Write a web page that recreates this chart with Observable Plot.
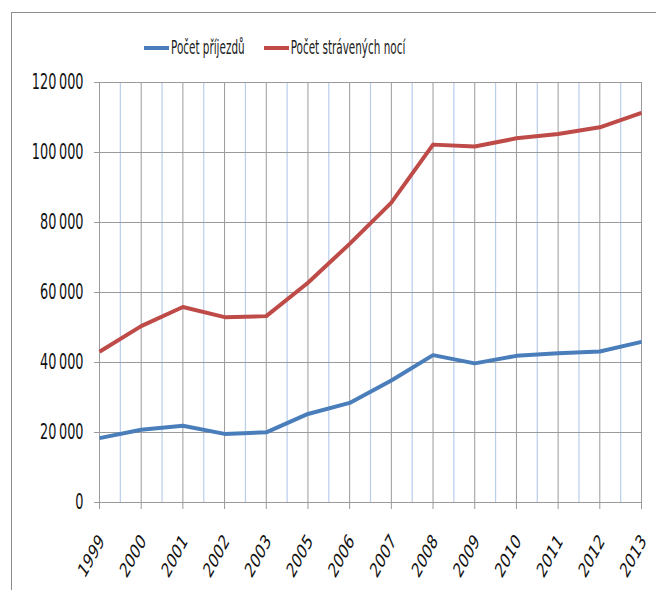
<!DOCTYPE html>
<html>
<head>
<meta charset="utf-8">
<script src="https://cdn.jsdelivr.net/npm/d3@7"></script>
<script src="https://cdn.jsdelivr.net/npm/@observablehq/plot@0.6"></script>
<style>
  html, body { margin: 0; padding: 0; background: #fff; }
  #wrap { position: relative; width: 656px; height: 590px; overflow: hidden; font-family: "DejaVu Sans Condensed", "Liberation Sans", sans-serif; }
  #frame { position: absolute; left: 11px; top: 12px; width: 700px; height: 700px; border: 1.5px solid #8c8c8c; box-sizing: border-box; }
  #chart { position: absolute; left: 0; top: 0; }
  #legend { position: absolute; top: 41px; left: 144px; display: flex; gap: 19px; font-size: 11.6px; color: #222; }
  .item { display: flex; align-items: center; gap: 2px; }
  .sw { display: inline-block; width: 25px; height: 4px; }
  .lt { display: inline-block; transform: scaleY(1.6); transform-origin: center; }
</style>
</head>
<body>
<div id="wrap">
  <div id="frame"></div>
  <div id="chart"></div>
  <div id="legend"></div>
</div>
<script>
const years = ["1999","2000","2001","2002","2003","2005","2006","2007","2008","2009","2010","2011","2012","2013"];
const seriesNames = ["Počet příjezdů", "Počet strávených nocí"];
const arrivals = [18400, 20800, 21950, 19600, 20050, 25300, 28450, 34850, 42100, 39750, 41900, 42650, 43150, 45900];
const nights   = [43050, 50400, 55850, 52950, 53250, 62800, 73900, 85700, 102250, 101700, 104050, 105300, 107200, 111300];
const yTicks = [0, 20000, 40000, 60000, 80000, 100000, 120000];
const colors = ["#4a7ebb", "#be4b48"];

const rows = [];
years.forEach((y, i) => {
  rows.push({i, year: y, value: arrivals[i], series: seriesNames[0]});
  rows.push({i, year: y, value: nights[i], series: seriesNames[1]});
});
const idx = years.map((_, i) => i);
const mids = idx.slice(0, -1).map(i => i + 0.5);
const fmt = d3.formatLocale({thousands: "\u2009", grouping: [3], decimal: ",", currency: ["", ""]}).format(",");

const chart = Plot.plot({
  width: 656,
  height: 590,
  marginLeft: 99,
  marginRight: 15,
  marginTop: 82,
  marginBottom: 88,
  style: {fontFamily: '"DejaVu Sans Condensed", sans-serif', fontSize: "14px", color: "#111", background: "transparent"},
  x: {type: "linear", domain: [0, years.length - 1], axis: null},
  y: {domain: [0, 120000], axis: null},
  color: {domain: seriesNames, range: colors},
  marks: [
    Plot.ruleX(mids, {x: d => d, stroke: "#b9cdec", strokeWidth: 1.2}),
    Plot.ruleX(idx, {x: d => d, stroke: "#9a9a9a", strokeWidth: 1}),
    Plot.ruleY(yTicks, {y: d => d, stroke: "#9a9a9a", strokeWidth: 1}),
    Plot.axisY({ticks: yTicks, tickFormat: fmt, tickSize: 5, tickPadding: 11, stroke: "#9a9a9a", fontSize: 14.3, label: null}),
    Plot.axisX({ticks: idx, tickFormat: i => years[i], tickSize: 7, tickPadding: 16, tickRotate: -60, stroke: "#9a9a9a", fontSize: 14, label: null}),
    Plot.line(rows, {x: "i", y: "value", z: "series", stroke: "series", strokeWidth: 4, strokeLinejoin: "round", strokeLinecap: "butt"})
  ]
});
document.getElementById("chart").appendChild(chart);

// emulate the vertically stretched lettering of the original picture
const re = /translate\(\s*([-\d.e]+)\s*,\s*([-\d.e]+)\s*\)/;
chart.querySelectorAll('g[aria-label="y-axis tick label"] text').forEach(t => {
  const m = (t.getAttribute("transform") || "").match(re);
  if (m) t.setAttribute("transform", `translate(${m[1]},${m[2]}) scale(1,1.5)`);
});
chart.querySelectorAll('g[aria-label="x-axis tick label"] text').forEach(t => {
  const m = (t.getAttribute("transform") || "").match(re);
  if (m) t.setAttribute("transform", `translate(${+m[1] + 2},${+m[2] + 12}) scale(1,1.5) rotate(-51)`);
});

const legend = document.getElementById("legend");
seriesNames.forEach((n, k) => {
  const it = document.createElement("div");
  it.className = "item";
  const sw = document.createElement("span");
  sw.className = "sw";
  sw.style.background = colors[k];
  const t = document.createElement("span");
  t.className = "lt";
  t.textContent = n;
  it.appendChild(sw);
  it.appendChild(t);
  legend.appendChild(it);
});
</script>
</body>
</html>
